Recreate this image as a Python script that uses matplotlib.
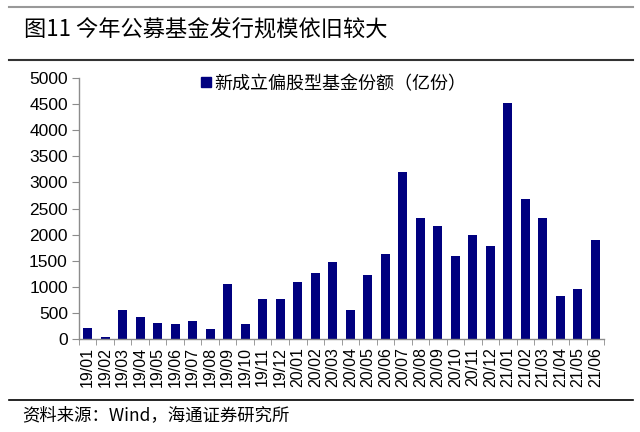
import numpy as np
import matplotlib
matplotlib.use("Agg")
import matplotlib.pyplot as plt
from matplotlib.lines import Line2D

plt.rcParams['font.family'] = ['Noto Sans CJK SC', 'DejaVu Sans']

# data
months = ['19/01', '19/02', '19/03', '19/04', '19/05', '19/06', '19/07', '19/08',
          '19/09', '19/10', '19/11', '19/12', '20/01', '20/02', '20/03', '20/04',
          '20/05', '20/06', '20/07', '20/08', '20/09', '20/10', '20/11', '20/12',
          '21/01', '21/02', '21/03', '21/04', '21/05', '21/06']
shares = [210, 45, 560, 420, 305, 280, 350, 190,
          1050, 280, 770, 770, 1100, 1265, 1475, 562,
          1220, 1620, 3190, 2320, 2165, 1595, 2000, 1790,
          4515, 2675, 2320, 825, 965, 1900]
series_name = '新成立偏股型基金份额（亿份）'
title = '图11 今年公募基金发行规模依旧较大'
source = '资料来源：Wind，海通证券研究所'
yticks = [0, 500, 1000, 1500, 2000, 2500, 3000, 3500, 4000, 4500, 5000]

bar_color = '#00007f'
axis_gray = '#8c8c8c'

fig = plt.figure(figsize=(6.4, 4.32), dpi=100)
ax = fig.add_axes([0.1234, 0.2153, 0.8204, 0.6041])

x = np.arange(len(months))
ax.bar(x, shares, width=0.53, color=bar_color, zorder=2)

ax.set_xlim(-0.5, len(months) - 0.5)
ax.set_ylim(0, 5000)
ax.set_yticks(yticks)
ax.set_yticklabels([str(v) for v in yticks], fontsize=12.5, family='Liberation Sans')
ax.set_xticks(x)
ax.set_xticklabels(months, rotation=90, fontsize=11.5, family='Liberation Sans')
ax.set_xticks(np.arange(-0.5, len(months)), minor=True)
ax.tick_params(axis='x', which='major', length=0, pad=6)
ax.tick_params(axis='x', which='minor', length=4, color=axis_gray, direction='out')
ax.tick_params(axis='y', length=5, color=axis_gray, direction='out', pad=3)

for side in ['top', 'right']:
    ax.spines[side].set_visible(False)
for side in ['left', 'bottom']:
    ax.spines[side].set_color(axis_gray)
    ax.spines[side].set_linewidth(1.0)

# legend: small square + text
handle = Line2D([], [], marker='s', color=bar_color, linestyle='none', markersize=7)
leg = ax.legend([handle], [series_name], loc='upper left', bbox_to_anchor=(0.215, 1.04),
                frameon=False, fontsize=13, handletextpad=0.05, handlelength=0.8,
                borderaxespad=0)

# header and footer
fig.text(24 / 640, 1 - 30 / 432, title, fontsize=16, fontweight='medium', va='center', ha='left')
fig.add_artist(Line2D([9 / 640, 633 / 640], [1 - 7 / 432, 1 - 7 / 432], color='#999999', lw=1.5))
fig.add_artist(Line2D([9 / 640, 633 / 640], [1 - 60 / 432, 1 - 60 / 432], color='#333333', lw=1.5))
fig.add_artist(Line2D([9 / 640, 633 / 640], [1 - 400 / 432, 1 - 400 / 432], color='black', lw=1.2))
fig.text(22 / 640, 1 - 415 / 432, source, fontsize=12.5, va='center', ha='left')

fig.savefig('out.png', dpi=100)
